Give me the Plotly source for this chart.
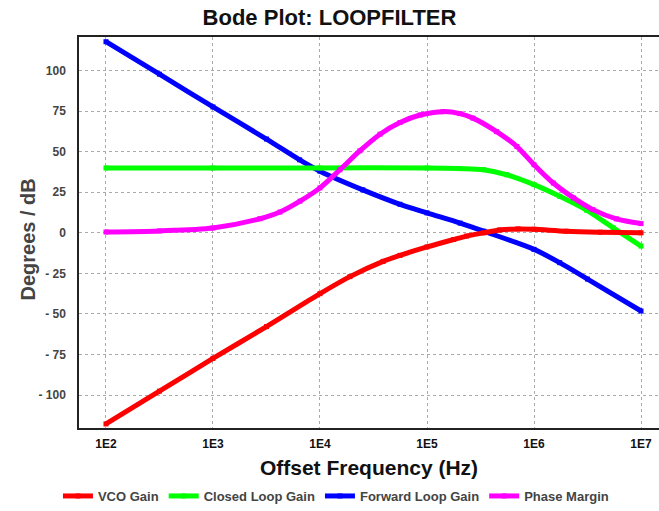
import plotly.graph_objects as go

# ---- data (frequency in Hz, values in dB / degrees) ----
forward_freq = [100, 316, 1000, 3162, 6457, 10000, 25119, 55976, 100000, 204174,
                338844, 1000000, 1737801, 3162278, 10000000]
forward_gain = [117.8, 97.8, 77.6, 57.8, 45.0, 38.0, 26.5, 17.6, 12.3, 6.0,
                1.0, -10.2, -18.4, -28.5, -48.2]

vco_freq = [100, 316, 1000, 3162, 10000, 19055, 38905, 55976, 100000, 177828,
            234423, 338844, 478630, 707946, 1000000, 1995262, 4168694, 10000000]
vco_gain = [-117.8, -97.6, -77.4, -57.8, -37.5, -27.0, -17.6, -13.9, -8.7, -4.1,
            -2.0, 0.0, 1.8, 2.4, 2.2, 1.0, 0.4, 0.0]

closed_freq = [100, 1000, 10000, 100000, 199526, 338844, 555904, 1000000,
               1737801, 3090295, 5495409, 10000000]
closed_gain = [40, 40, 40, 40, 39.6, 38.9, 35.8, 29.7, 22.5, 14.0, 3.1, -8.2]

phase_freq = [100, 316, 1000, 2754, 4227, 6501, 10000, 15382, 23659, 36392,
              55976, 86099, 141254, 203236, 269153, 446684, 691831, 1000000,
              1513561, 2344229, 3548134, 5888437, 10000000]
phase_margin = [0.5, 1.2, 3.0, 8.7, 12.8, 19.5, 27.7, 38.9, 50.6, 60.8,
                68.0, 72.6, 74.7, 73.5, 70.7, 62.4, 53.2, 42.0,
                30.7, 21.5, 14.3, 8.6, 5.7]

y_tickvals = [100, 75, 50, 25, 0, -25, -50, -75, -100]
y_ticktext = ["100", "75", "50", "25", "0", "- 25", "- 50", "- 75", "- 100"]
x_tickvals = [1e2, 1e3, 1e4, 1e5, 1e6, 1e7]
x_ticktext = ["1E2", "1E3", "1E4", "1E5", "1E6", "1E7"]

FONT = "Liberation Sans, Arial, sans-serif"

fig = go.Figure()

def add(name, x, y, color, rank):
    fig.add_trace(go.Scatter(
        x=x, y=y, name=name, mode="lines+markers",
        line=dict(color=color, width=5, shape="spline", smoothing=0.8),
        marker=dict(color=color, size=5, symbol="square"),
        legendrank=rank,
    ))

add("Forward Loop Gain", forward_freq, forward_gain, "#0000ff", 3)
add("Closed Loop Gain", closed_freq, closed_gain, "#00ff00", 2)
add("Phase Margin", phase_freq, phase_margin, "#ff00ff", 4)
add("VCO Gain", vco_freq, vco_gain, "#ff0000", 1)

fig.update_layout(
    width=659, height=511,
    margin=dict(l=79, r=0, t=37, b=82),
    paper_bgcolor="white", plot_bgcolor="white",
    font=dict(family=FONT, color="#444444"),
    title=dict(text="Bode Plot: LOOPFILTER", x=0.5, xref="container",
               xanchor="center", y=1 - 17 / 511, yanchor="middle",
               font=dict(size=22, color="#111111", family=FONT, weight="bold")),
    showlegend=True,
    legend=dict(orientation="h", x=0.443, xanchor="center", y=-0.173,
                yanchor="middle",
                font=dict(size=13, color="#444444", family=FONT, weight="bold"),
                itemwidth=30, bgcolor="rgba(0,0,0,0)"),
    xaxis=dict(
        type="log", range=[1.748, 7.168],
        tickvals=x_tickvals, ticktext=x_ticktext,
        tickfont=dict(size=12, color="#111111", family=FONT, weight="bold"),
        ticks="outside", ticklen=4, tickcolor="rgba(0,0,0,0)",
        showgrid=True, gridcolor="#aaaaaa", griddash="dot", gridwidth=1,
        showline=True, linecolor="#222222", linewidth=1.5, mirror=True,
        zeroline=False,
        title=dict(text="Offset Frequency (Hz)", standoff=10,
                   font=dict(size=21, color="#111111", family=FONT, weight="bold")),
    ),
    yaxis=dict(
        range=[-120.3, 120.7],
        tickvals=y_tickvals, ticktext=y_ticktext,
        tickfont=dict(size=12, color="#444444", family=FONT, weight="bold"),
        ticks="outside", ticklen=9, tickcolor="rgba(0,0,0,0)",
        showgrid=True, gridcolor="#aaaaaa", griddash="dot", gridwidth=1,
        showline=True, linecolor="#222222", linewidth=1.5,
        zeroline=False,
    ),
    annotations=[dict(
        text="Degrees / dB", textangle=-90, showarrow=False,
        xref="paper", yref="paper", x=(28 - 79) / 580, y=(429 - 240) / 392,
        xanchor="center", yanchor="middle",
        font=dict(size=20, color="#444444", family=FONT, weight="bold"),
    )],
)

fig.write_html("out.html", config={"displayModeBar": False},
               post_script="document.body.style.margin='0';")
